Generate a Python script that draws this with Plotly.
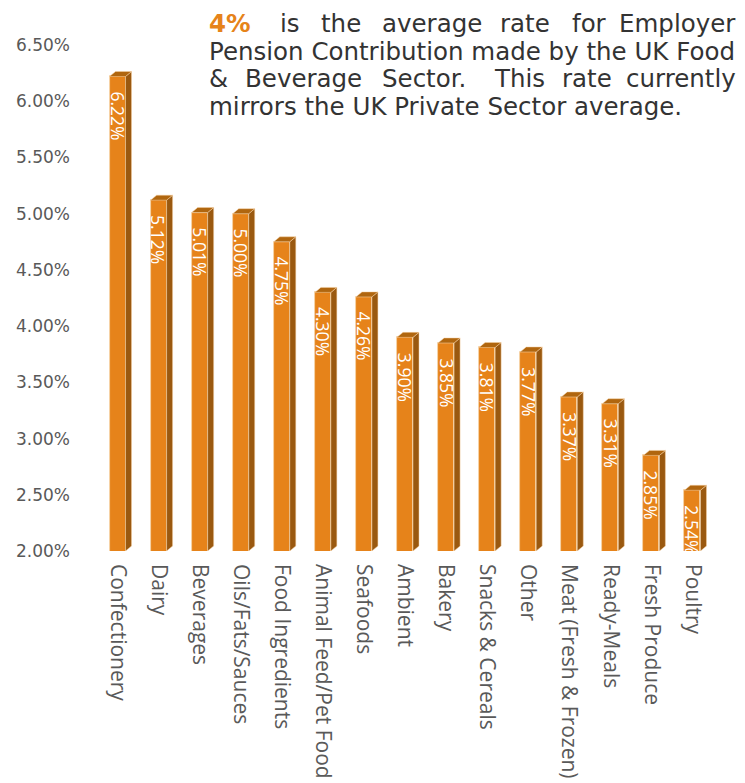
import plotly.graph_objects as go

# Employer pension contribution rate by food & beverage sub-sector (%)
categories = [
    "Confectionery", "Dairy", "Beverages", "Oils/Fats/Sauces", "Food Ingredients",
    "Animal Feed/Pet Food", "Seafoods", "Ambient", "Bakery", "Snacks & Cereals",
    "Other", "Meat (Fresh & Frozen)", "Ready-Meals", "Fresh Produce", "Poultry",
]
rates = [6.22, 5.12, 5.01, 5.00, 4.75, 4.30, 4.26, 3.90, 3.85, 3.81, 3.77, 3.37, 3.31, 2.85, 2.54]
y_ticks = [2.0, 2.5, 3.0, 3.5, 4.0, 4.5, 5.0, 5.5, 6.0, 6.5]

W, H = 745, 783
MARGIN = dict(l=97, r=32, t=45, b=232)
Y_MIN, Y_MAX = 2.0, 6.5

FRONT = "#E6831A"
SIDE = "#9A5910"
TOP = "#B0660F"
EDGE = "#F6D3A6"
GREY = "#595959"
TEXT = "#333333"

plot_w = W - MARGIN["l"] - MARGIN["r"]
plot_h = H - MARGIN["t"] - MARGIN["b"]
n = len(categories)
px_per_cat = plot_w / n
px_per_unit = plot_h / (Y_MAX - Y_MIN)

bar_w = 16 / px_per_cat          # front face width (category units)
depth_x = 6 / px_per_cat         # 3D depth offset, horizontal
depth_y = 5 / px_per_unit        # 3D depth offset, vertical

x = list(range(n))

fig = go.Figure(
    go.Bar(
        x=x,
        y=rates,
        width=bar_w,
        marker=dict(color=FRONT, line=dict(color=EDGE, width=0.8)),
        hovertemplate="%{customdata}: %{y:.2f}%<extra></extra>",
        customdata=categories,
    )
)

# Side and top faces give each bar its extruded look
shapes = []
for i, v in zip(x, rates):
    r = i + bar_w / 2
    l = i - bar_w / 2
    side = (f"M {r},{Y_MIN} L {r + depth_x},{Y_MIN + depth_y} "
            f"L {r + depth_x},{v + depth_y} L {r},{v} Z")
    top = (f"M {l},{v} L {r},{v} L {r + depth_x},{v + depth_y} "
           f"L {l + depth_x},{v + depth_y} Z")
    shapes.append(dict(type="path", path=side, xref="x", yref="y",
                       fillcolor=SIDE, line=dict(color=EDGE, width=0.5), layer="above"))
    shapes.append(dict(type="path", path=top, xref="x", yref="y",
                       fillcolor=TOP, line=dict(color=EDGE, width=0.5), layer="above"))

annotations = []
# Value labels, rotated, inside the top of each bar
for i, v in zip(x, rates):
    annotations.append(dict(
        x=i, y=v, xref="x", yref="y", text=f"{v:.2f}%", textangle=90,
        showarrow=False, xanchor="center", yanchor="top", yshift=-13,
        font=dict(family="Open Sans", size=17.5, color="white"),
    ))


def px_to_paper(px, py):
    return (px - MARGIN["l"]) / plot_w, (H - MARGIN["b"] - py) / plot_h


# Justified note in the top right corner: one entry per word on stretched lines
note_font = dict(family="DejaVu Sans", size=24.5, color=TEXT)
note_lines = [
    (23, [("<b>4%</b>", 207, "left", "#E6831A"), ("is", 278, "left", TEXT),
          ("the", 319, "left", TEXT), ("average", 380, "left", TEXT),
          ("rate", 498, "left", TEXT), ("for", 570, "left", TEXT),
          ("Employer", 738, "right", TEXT)]),
    (51, [("Pension Contribution made by the UK Food", 207, "left", TEXT)]),
    (79, [("&", 207, "left", TEXT), ("Beverage", 243, "left", TEXT),
          ("Sector.", 380, "left", TEXT), ("This", 492, "left", TEXT),
          ("rate", 560, "left", TEXT), ("currently", 738, "right", TEXT)]),
    (107, [("mirrors the UK Private Sector average.", 207, "left", TEXT)]),
]
for cy, words in note_lines:
    for word, px, anchor, color in words:
        ax, ay = px_to_paper(px, cy)
        annotations.append(dict(
            x=ax, y=ay, xref="paper", yref="paper", text=word, showarrow=False,
            xanchor=anchor, yanchor="middle",
            font=dict(family=note_font["family"], size=note_font["size"], color=color),
        ))

fig.update_layout(
    width=W, height=H,
    margin=dict(l=MARGIN["l"], r=MARGIN["r"], t=MARGIN["t"], b=MARGIN["b"], pad=0),
    paper_bgcolor="white", plot_bgcolor="white",
    showlegend=False,
    bargap=0,
    shapes=shapes,
    annotations=annotations,
    xaxis=dict(
        range=[-0.5, n - 0.5], tickmode="array", tickvals=x, ticktext=categories,
        tickangle=90, showgrid=False, zeroline=False, showline=False, ticks="",
        tickfont=dict(family="Open Sans", size=21, color=GREY),
        ticklabelstandoff=12, automargin=False, fixedrange=True,
    ),
    yaxis=dict(
        range=[Y_MIN, Y_MAX], tickmode="array", tickvals=y_ticks,
        ticktext=[f"{t:.2f}%" for t in y_ticks],
        showgrid=False, zeroline=False, showline=False, ticks="",
        tickfont=dict(family="DejaVu Sans", size=17, color=GREY),
        ticklabelstandoff=26, automargin=False, fixedrange=True,
    ),
)

fig.write_html("out.html", config={"displayModeBar": False})
